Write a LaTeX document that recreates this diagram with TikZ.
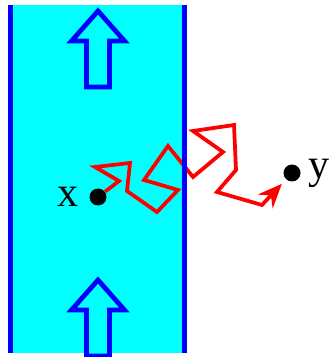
\documentclass[tikz,border=0pt]{standalone}
\usepackage{fontspec}
\setmainfont{Liberation Serif}
\usetikzlibrary{arrows.meta,positioning}
\definecolor{bandfill}{RGB}{0,255,255}
\definecolor{bandline}{RGB}{0,0,255}
\definecolor{walkred}{RGB}{255,0,0}
\tikzset{
  band_edge/.style={draw=bandline,line width=0.095cm},
  flow_arr/.pic={
    \draw[band_edge,fill=bandfill]
      (0,0) -- (26.5,30) -- (11.5,30) -- (11.5,76)
      -- (-11.5,76) -- (-11.5,30) -- (-26.5,30) -- cycle;
  },
  walk/.style={draw=walkred,line width=0.075cm,
    -{Stealth[length=0.48cm,width=0.4cm,inset=0.16cm]}},
  pt/.style={circle,fill=black,minimum size=0.34cm,inner sep=0pt},
  pt_lab/.style={inner sep=0pt,font=\fontsize{24}{27}\selectfont},
}

\begin{document}
\begin{tikzpicture}[x=0.02cm,y=-0.02cm]
  \useasboundingbox (0,0) rectangle (331,357);

  % flowing layer
  \fill[bandfill] (10.3,5) rectangle (184.5,353);
  \pic at (98,11)  {flow_arr};
  \pic at (98,280) {flow_arr};

  \node (xdot) [pt] at (98,197) {};
  \node (ydot) [pt] at (292,173) {};
  \node (xlab) [pt_lab, left=0.21cm of xdot] {x};
  \node (ylab) [pt_lab, right=0.14cm of ydot] {y};

  % random walk from x to y
  \draw[walk,shorten >=0.12cm] (xdot) -- (119,181) -- (95,167) -- (130,163)
    -- (127,191) -- (157,212) -- (178,190) -- (144,180) -- (168,146)
    -- (193,177) -- (223,152) -- (193,131) -- (234,125) -- (236,170)
    -- (217,192) -- (262,205) -- (ydot);

  \draw[band_edge] (10.3,5) -- (10.3,353);
  \draw[band_edge] (184.5,5) -- (184.5,353);
\end{tikzpicture}
\end{document}
